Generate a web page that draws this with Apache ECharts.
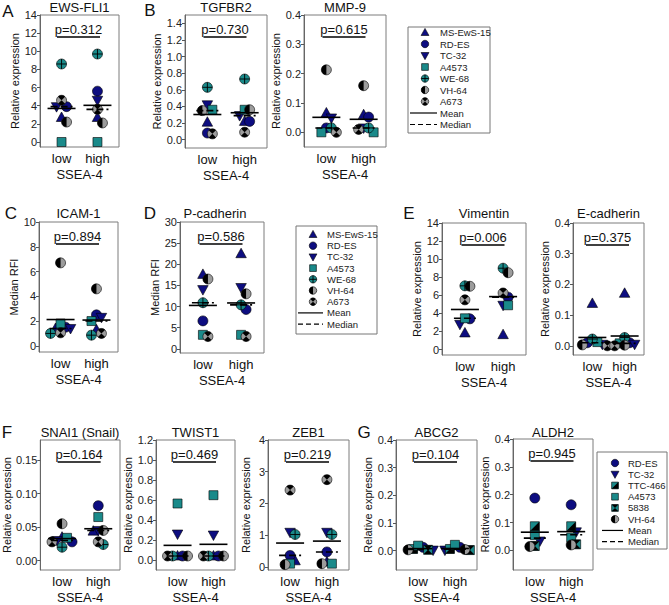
<!DOCTYPE html>
<html><head><meta charset="utf-8">
<script src="https://cdn.jsdelivr.net/npm/echarts@6/dist/echarts.min.js"></script>
<style>html,body{margin:0;padding:0;background:#fff}#c{width:669px;height:605px}</style>
</head><body><div id="c"></div>
<script>
// ---------------- DATA ----------------
const groups = ['low', 'high'];
const groupAxisName = 'SSEA-4';
const cellLines = ['MS-EwS-15', 'RD-ES', 'TC-32', 'A4573', 'WE-68', 'VH-64', 'A673'];
const cellLinesG = ['RD-ES', 'TC-32', 'TTC-466', 'A4573', '5838', 'VH-64'];

const ewsFli1Low  = [2.7, 3.9, 3.9, 0.0, 8.6, 2.2, 4.6];
const ewsFli1High = [2.7, 5.6, 4.6, 0.0, 9.7, 2.1, 3.6];
const tgfbr2Low   = [0.21, 0.08, 0.42, 0.36, 0.63, 0.35, 0.07];
const tgfbr2High  = [0.22, 0.22, 0.29, 0.36, 0.73, 0.36, 0.09];
const mmp9Low     = [0.066, 0.015, 0.049, 0.0, 0.015, 0.213, 0.0];
const mmp9High    = [0.06, 0.052, 0.015, 0.0, 0.015, 0.159, 0.01];
const icam1Low    = [1.4, 1.5, 1.4, 1.8, 1.0, 6.7, 1.05];
const icam1High   = [1.3, 2.5, 2.3, 2.0, 0.86, 4.6, 1.0];
const pcadLow     = [17.6, 6.6, 14.0, 3.3, 10.9, 16.5, 2.9];
const pcadHigh    = [22.5, 9.3, 14.5, 3.3, 10.4, 13.0, 2.9];
const vimLow      = [1.84, 3.4, 2.8, 3.46, 7.05, 7.0, 5.5];
const vimHigh     = [1.65, 5.8, 4.9, 4.9, 9.0, 8.5, 6.26];
const ecadLow     = [0.138, 0.01, 0.005, 0.012, 0.022, 0.003, 0.0];
const ecadHigh    = [0.171, 0.01, 0.005, 0.008, 0.027, 0.002, 0.0];
const snaiLow     = [0.035, 0.028, 0.03, 0.034, 0.02, 0.055, 0.028];
const snaiHigh    = [0.044, 0.082, 0.045, 0.065, 0.024, 0.045, 0.028];
const twistLow    = [0.04, 0.04, 0.26, 0.565, 0.04, 0.04, 0.04];
const twistHigh   = [0.04, 0.04, 0.25, 0.648, 0.04, 0.04, 0.04];
const zebLow      = [0.19, 0.36, 1.09, 0.1, 1.02, 0.07, 2.42];
const zebHigh     = [0.15, 0.47, 1.09, 0.1, 1.02, 0.1, 2.75];
const abcg2Low    = [0.012, 0.002, 0.006, 0.018, 0.003, 0.003];
const abcg2High   = [0.012, 0.002, 0.006, 0.021, 0.002, 0.004];
const aldh2Low    = [0.188, 0.034, 0.087, 0.055, 0.016, 0.014];
const aldh2High   = [0.164, 0.067, 0.087, 0.046, 0.022, 0.02];

const pValues = ['p=0.312', 'p=0.730', 'p=0.615', 'p=0.894', 'p=0.586', 'p=0.006',
                 'p=0.375', 'p=0.164', 'p=0.469', 'p=0.219', 'p=0.104', 'p=0.945'];
const panelTitles = ['EWS-FLI1', 'TGFBR2', 'MMP-9', 'ICAM-1', 'P-cadherin', 'Vimentin',
                     'E-cadherin', 'SNAI1 (Snail)', 'TWIST1', 'ZEB1', 'ABCG2', 'ALDH2'];
const yNames = ['Relative expression', 'Median RFI'];
const panelLetters = ['A', 'B', 'C', 'D', 'E', 'F', 'G'];
const legendStatLabels = ['Mean', 'Median'];

const ticks14  = [0, 2, 4, 6, 8, 10, 12, 14];
const ticks1_4 = [0, 0.2, 0.4, 0.6, 0.8, 1.0, 1.2, 1.4];
const ticks0_4 = [0, 0.1, 0.2, 0.3, 0.4];
const ticks10  = [0, 2, 4, 6, 8, 10];
const ticks30  = [0, 5, 10, 15, 20, 25, 30];
const ticks015 = [0, 0.05, 0.10, 0.15];
const ticks1_2 = [0, 0.2, 0.4, 0.6, 0.8, 1.0, 1.2];
const ticks4   = [0, 1, 2, 3, 4];

// ---------------- STYLE / LAYOUT ----------------
const FONT = '"Liberation Sans", Arial, sans-serif';
const NAVY = '#0d0d80', TEAL = '#1a8a8a', GRAY = '#9c9c9c';
const MSIZE = 10;
const markerKind = {
  'MS-EwS-15': 'triUp', 'RD-ES': 'circle', 'TC-32': 'triDown', 'A4573': 'square',
  'WE-68': 'crossCircle', 'VH-64': 'half', 'A673': 'hourglass', 'TTC-466': 'sqHalf', '5838': 'sqHour'
};

// box = [left, top, width, height] in px
const panels = [
  { t: 0, low: ewsFli1Low, high: ewsFli1High, cells: cellLines, ticks: ticks14, dec: 0, min: -0.55, max: 14, box: [40, 15, 79, 132], yn: 0, gap: 16 },
  { t: 1, low: tgfbr2Low, high: tgfbr2High, cells: cellLines, ticks: ticks1_4, dec: 1, min: -0.1, max: 1.5, box: [185, 15, 82, 133], yn: 0, gap: 21 },
  { t: 2, low: mmp9Low, high: mmp9High, cells: cellLines, ticks: ticks0_4, dec: 1, min: -0.05, max: 0.4, box: [304, 15, 82, 132], yn: 0, gap: 21 },
  { t: 3, low: icam1Low, high: icam1High, cells: cellLines, ticks: ticks10, dec: 0, min: -0.5, max: 10, box: [39, 222, 79, 130], yn: 1, gap: 15 },
  { t: 4, low: pcadLow, high: pcadHigh, cells: cellLines, ticks: ticks30, dec: 0, min: -1, max: 30, box: [180, 222, 84, 131], yn: 1, gap: 14, tdx: -7 },
  { t: 5, low: vimLow, high: vimHigh, cells: cellLines, ticks: ticks14, dec: 0, min: -0.6, max: 14, box: [442, 223, 84, 132], yn: 0, gap: 13 },
  { t: 6, low: ecadLow, high: ecadHigh, cells: cellLines, ticks: ticks0_4, dec: 1, min: -0.03, max: 0.4, box: [573, 223, 71, 132], yn: 0, gap: 19 },
  { t: 7, low: snaiLow, high: snaiHigh, cells: cellLines, ticks: ticks015, dec: 2, min: -0.014, max: 0.18, box: [40, 440, 80, 132], yn: 0, gap: 28 },
  { t: 8, low: twistLow, high: twistHigh, cells: cellLines, ticks: ticks1_2, dec: 1, min: -0.1, max: 1.2, box: [156, 440, 79, 131], yn: 0, gap: 20 },
  { t: 9, low: zebLow, high: zebHigh, cells: cellLines, ticks: ticks4, dec: 0, min: -0.1, max: 4, box: [268, 440, 81, 131], yn: 0, gap: 17 },
  { t: 10, low: abcg2Low, high: abcg2High, cells: cellLinesG, ticks: ticks0_4, dec: 1, min: -0.07, max: 0.4, box: [396, 440, 81, 132], yn: 0, gap: 22 },
  { t: 11, low: aldh2Low, high: aldh2High, cells: cellLinesG, ticks: ticks0_4, dec: 1, min: -0.07, max: 0.4, box: [513, 439, 80, 133], yn: 0, gap: 22 }
];
const titleY = [7, 7, 7, 213, 213, 213, 213, 432, 432, 432, 432, 432];
const letterPos = [[8, 11], [150, 10], [11, 213], [150, 213], [409, 213], [7, 432], [364, 432]];
const legends = [
  { cells: cellLines, box: [408, 27, 82, 106], mx: 425, tx: 440, y0: 32.5, step: 11.5, lx: [410, 437] },
  { cells: cellLines, box: [296, 226, 81, 108], mx: 313, tx: 327, y0: 234.5, step: 11.2, lx: [298, 323] },
  { cells: cellLinesG, box: [597, 452, 70, 97], mx: 615, tx: 628, y0: 463, step: 11.24, lx: [602, 623] }
];

// ---------------- HELPERS ----------------
function mean(a) { return a.reduce((s, v) => s + v, 0) / a.length; }
function median(a) {
  const s = a.slice().sort((x, y) => x - y), n = s.length;
  return n % 2 ? s[(n - 1) / 2] : (s[n / 2 - 1] + s[n / 2]) / 2;
}

function marker(kind, cx, cy, s) {
  const r = s / 2;
  const st = (fill) => ({ fill: fill, stroke: '#000', lineWidth: 0.6 });
  const outline = { type: 'circle', shape: { cx: cx, cy: cy, r: r }, style: { fill: 'none', stroke: '#000', lineWidth: 0.6 } };
  const PI = Math.PI;
  switch (kind) {
    case 'triUp':
      return [{ type: 'polygon', shape: { points: [[cx, cy - r * 1.1], [cx + r * 1.05, cy + r * 0.8], [cx - r * 1.05, cy + r * 0.8]] }, style: st(NAVY) }];
    case 'triDown':
      return [{ type: 'polygon', shape: { points: [[cx, cy + r * 1.1], [cx + r * 1.05, cy - r * 0.8], [cx - r * 1.05, cy - r * 0.8]] }, style: st(NAVY) }];
    case 'circle':
      return [{ type: 'circle', shape: { cx: cx, cy: cy, r: r }, style: st(NAVY) }];
    case 'square':
      return [{ type: 'rect', shape: { x: cx - r * 0.9, y: cy - r * 0.9, width: r * 1.8, height: r * 1.8 }, style: st(TEAL) }];
    case 'crossCircle':
      return [
        { type: 'circle', shape: { cx: cx, cy: cy, r: r }, style: st(TEAL) },
        { type: 'line', shape: { x1: cx - r, y1: cy, x2: cx + r, y2: cy }, style: { stroke: '#000', lineWidth: 0.9 } },
        { type: 'line', shape: { x1: cx, y1: cy - r, x2: cx, y2: cy + r }, style: { stroke: '#000', lineWidth: 0.9 } }
      ];
    case 'half':
      return [
        { type: 'circle', shape: { cx: cx, cy: cy, r: r }, style: { fill: GRAY } },
        { type: 'sector', shape: { cx: cx, cy: cy, r: r, r0: 0, startAngle: PI / 2, endAngle: PI * 1.5, clockwise: true }, style: { fill: '#000' } },
        outline
      ];
    case 'hourglass':
      return [
        { type: 'circle', shape: { cx: cx, cy: cy, r: r }, style: { fill: GRAY } },
        { type: 'sector', shape: { cx: cx, cy: cy, r: r, r0: 0, startAngle: PI * 1.25, endAngle: PI * 1.75, clockwise: true }, style: { fill: '#000' } },
        { type: 'sector', shape: { cx: cx, cy: cy, r: r, r0: 0, startAngle: PI * 0.25, endAngle: PI * 0.75, clockwise: true }, style: { fill: '#000' } },
        outline
      ];
    case 'sqHalf': {
      const h = r * 0.9;
      return [
        { type: 'rect', shape: { x: cx - h, y: cy - h, width: 2 * h, height: 2 * h }, style: { fill: TEAL } },
        { type: 'polygon', shape: { points: [[cx - h, cy + h], [cx + h, cy - h], [cx + h, cy + h]] }, style: { fill: '#000' } },
        { type: 'rect', shape: { x: cx - h, y: cy - h, width: 2 * h, height: 2 * h }, style: { fill: 'none', stroke: '#000', lineWidth: 0.6 } }
      ];
    }
    case 'sqHour': {
      const h = r * 0.9;
      return [
        { type: 'rect', shape: { x: cx - h, y: cy - h, width: 2 * h, height: 2 * h }, style: { fill: TEAL } },
        { type: 'polygon', shape: { points: [[cx - h, cy - h], [cx + h, cy - h], [cx, cy]] }, style: { fill: '#000' } },
        { type: 'polygon', shape: { points: [[cx - h, cy + h], [cx + h, cy + h], [cx, cy]] }, style: { fill: '#000' } },
        { type: 'rect', shape: { x: cx - h, y: cy - h, width: 2 * h, height: 2 * h }, style: { fill: 'none', stroke: '#000', lineWidth: 0.6 } }
      ];
    }
  }
  return [];
}

function swarmOffsets(api, items, step) {
  const pos = items.map(d => api.coord([d[0], d[1]]));
  const off = items.map(() => 0);
  [1, 2].forEach(g => {
    const idx = items.map((d, i) => i).filter(i => items[i][0] === g)
      .sort((a, b) => items[b][1] - items[a][1]);
    const placed = [];
    idx.forEach(i => {
      for (let k = 0; k < 24; k++) {
        const o = k === 0 ? 0 : (k % 2 ? 1 : -1) * Math.ceil(k / 2) * step;
        const x = pos[i][0] + o, y = pos[i][1];
        if (placed.every(j => Math.abs(pos[j][0] + off[j] - x) >= step - 0.01 || Math.abs(pos[j][1] - y) >= 7)) { off[i] = o; break; }
      }
      placed.push(i);
    });
  });
  return off;
}

// ---------------- BUILD OPTION ----------------
const grid = [], xAxis = [], yAxis = [], series = [], graphic = [];
const txt = { fontFamily: FONT, color: '#111' };

panels.forEach((p, i) => {
  const [l, t, w, h] = p.box;
  grid.push({ left: l, top: t, width: w, height: h, show: true, borderColor: '#7d7d7d', borderWidth: 1, backgroundColor: 'transparent' });
  xAxis.push({
    gridIndex: i, type: 'value', min: 0.4, max: 2.6,
    axisLine: { show: false }, axisTick: { show: false }, splitLine: { show: false },
    axisLabel: { customValues: [1, 2], formatter: v => groups[Math.round(v) - 1], fontSize: 13, margin: 5, ...txt },
    name: groupAxisName, nameLocation: 'middle', nameGap: 21, nameTextStyle: { fontSize: 13, ...txt }
  });
  yAxis.push({
    gridIndex: i, type: 'value', min: p.min, max: p.max,
    axisLine: { show: true, lineStyle: { color: '#666', width: 1 } },
    axisTick: { show: true, customValues: p.ticks, length: 3, lineStyle: { color: '#555' } },
    axisLabel: { customValues: p.ticks, formatter: v => v.toFixed(p.dec), fontSize: 11, margin: 3, fontFamily: FONT, color: '#222' },
    splitLine: { show: false },
    name: yNames[p.yn], nameLocation: 'middle', nameGap: p.gap, nameRotate: 90,
    nameTextStyle: { fontSize: 11, ...txt }
  });

  const items = [];
  p.low.forEach((v, k) => items.push([1, v, k]));
  p.high.forEach((v, k) => items.push([2, v, k]));
  let offs = null;
  series.push({
    type: 'custom', xAxisIndex: i, yAxisIndex: i, data: items, encode: { x: 0, y: 1 }, z: 3,
    renderItem: function (params, api) {
      if (!offs || params.dataIndex === 0) offs = swarmOffsets(api, items, 5);
      const d = items[params.dataIndex];
      const c = api.coord([d[0], d[1]]);
      return { type: 'group', children: marker(markerKind[p.cells[d[2]]], c[0] + offs[params.dataIndex], c[1], MSIZE) };
    }
  });

  const stats = [[1, mean(p.low), median(p.low)], [2, mean(p.high), median(p.high)]];
  series.push({
    type: 'custom', xAxisIndex: i, yAxisIndex: i, data: stats, encode: { x: 0, y: 1 }, z: 5,
    renderItem: function (params, api) {
      const d = stats[params.dataIndex];
      const cm = api.coord([d[0], d[1]]), cd = api.coord([d[0], d[2]]);
      return {
        type: 'group', children: [
          { type: 'line', shape: { x1: cm[0] - 14, y1: cm[1], x2: cm[0] + 14, y2: cm[1] }, style: { stroke: '#000', lineWidth: 1.6 } },
          { type: 'line', shape: { x1: cd[0] - 11, y1: cd[1], x2: cd[0] + 11, y2: cd[1] }, style: { stroke: '#000', lineWidth: 1.6, lineDash: [7, 3] } }
        ]
      };
    }
  });

  series.push({
    type: 'custom', xAxisIndex: i, yAxisIndex: i, data: [[1.5, 0]], encode: { x: 0, y: 1 }, z: 5,
    renderItem: function (params, api) {
      const cs = params.coordSys;
      const cx = api.coord([1.5, 0])[0] - 1;
      const y = cs.y + 22;
      return {
        type: 'group', children: [
          { type: 'line', shape: { x1: cx - 21.5, y1: y, x2: cx + 21.5, y2: y }, style: { stroke: '#000', lineWidth: 1.5 } },
          { type: 'text', style: { text: pValues[p.t], x: cx, y: y - 8, align: 'center', verticalAlign: 'middle', font: '13px ' + FONT, fill: '#111' } }
        ]
      };
    }
  });

  graphic.push({
    type: 'text', x: l + w / 2 + (p.tdx || 0), y: titleY[i],
    style: { text: panelTitles[p.t], align: 'center', verticalAlign: 'middle', font: '13px ' + FONT, fill: '#111' }
  });
});

panelLetters.forEach((L, k) => {
  graphic.push({ type: 'text', x: letterPos[k][0], y: letterPos[k][1],
    style: { text: L, align: 'center', verticalAlign: 'middle', font: '17px ' + FONT, fill: '#111' } });
});

legends.forEach(lg => {
  const [bx, by, bw, bh] = lg.box;
  const ch = [{ type: 'rect', shape: { x: bx, y: by, width: bw, height: bh }, style: { fill: '#fff', stroke: '#777', lineWidth: 1 } }];
  lg.cells.forEach((name, k) => {
    const y = lg.y0 + k * lg.step;
    marker(markerKind[name], lg.mx, y, 7.5).forEach(e => ch.push(e));
    ch.push({ type: 'text', style: { text: name, x: lg.tx, y: y, align: 'left', verticalAlign: 'middle', font: '9.5px ' + FONT, fill: '#222' } });
  });
  const n = lg.cells.length;
  const yM = lg.y0 + n * lg.step, yD = lg.y0 + (n + 1) * lg.step;
  ch.push({ type: 'line', shape: { x1: lg.lx[0], y1: yM, x2: lg.lx[1], y2: yM }, style: { stroke: '#000', lineWidth: 1.2 } });
  ch.push({ type: 'line', shape: { x1: lg.lx[0], y1: yD, x2: lg.lx[1], y2: yD }, style: { stroke: '#000', lineWidth: 1.2, lineDash: [5, 3] } });
  ch.push({ type: 'text', style: { text: legendStatLabels[0], x: lg.tx, y: yM, align: 'left', verticalAlign: 'middle', font: '9.5px ' + FONT, fill: '#222' } });
  ch.push({ type: 'text', style: { text: legendStatLabels[1], x: lg.tx, y: yD, align: 'left', verticalAlign: 'middle', font: '9.5px ' + FONT, fill: '#222' } });
  graphic.push({ type: 'group', children: ch });
});

const chart = echarts.init(document.getElementById('c'), null, { renderer: 'svg', width: 669, height: 605 });
chart.setOption({
  backgroundColor: '#fff',
  animation: false,
  grid: grid, xAxis: xAxis, yAxis: yAxis, series: series, graphic: graphic
});
</script>
</body></html>
